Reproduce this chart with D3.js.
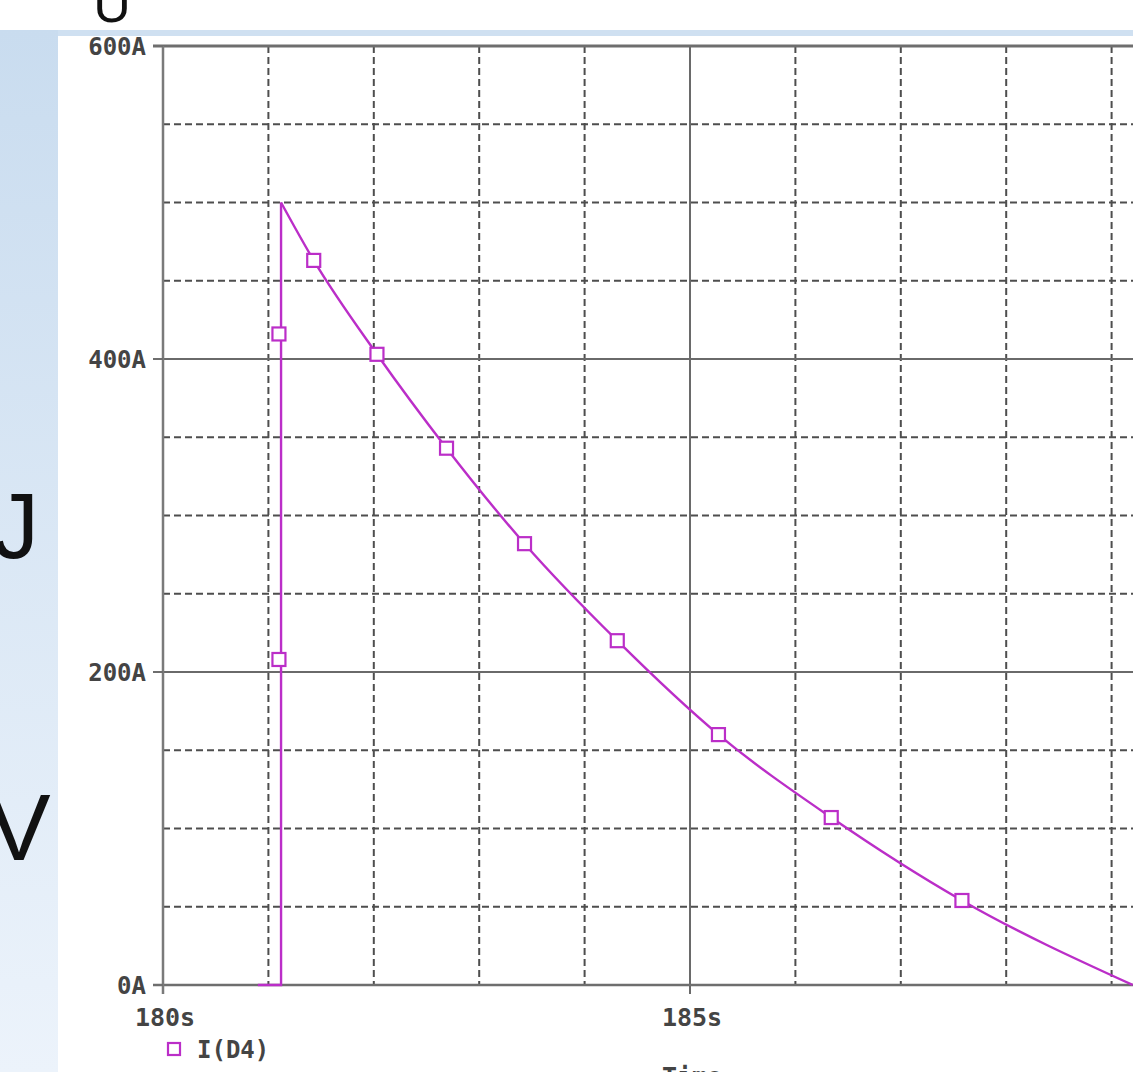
<!DOCTYPE html>
<html>
<head>
<meta charset="utf-8">
<script src="https://cdn.jsdelivr.net/npm/d3@7"></script>
<style>
  html, body { margin: 0; padding: 0; background: #fff; }
  svg { display: block; }
</style>
</head>
<body>
<div id="chart"></div>
<script>
// trace I(D4)
const traceTime = [180.9, 181.12, 181.12, 181.43, 182.03, 182.69, 183.43, 184.31, 185.27, 186.34, 187.58, 189.2];
const traceAmps = [0, 0, 500, 463, 403, 343, 282, 220, 160, 107, 54, 0];
// marker squares
const markerTime = [181.1, 181.1, 181.43, 182.03, 182.69, 183.43, 184.31, 185.27, 186.34, 187.58];
const markerAmps = [208, 416, 463, 403, 343, 282, 220, 160, 107, 54];
// axis ticks
const yTicks = [0, 200, 400, 600];
const yGrid = [50, 100, 150, 250, 300, 350, 450, 500, 550];
const xTicks = [180, 185];
const xGrid = [181, 182, 183, 184, 186, 187, 188, 189];

const W = 1133, H = 1072;
const color = '#bb2ec8';
const gridColor = '#4e4e4e';

const svg = d3.select('#chart').append('svg')
  .attr('width', W).attr('height', H);

// slide background
const defs = svg.append('defs');
const grad = defs.append('linearGradient')
  .attr('id', 'sideGrad').attr('x1', 0).attr('y1', 0).attr('x2', 0).attr('y2', 1);
grad.append('stop').attr('offset', '0%').attr('stop-color', '#c9dcef');
grad.append('stop').attr('offset', '100%').attr('stop-color', '#ecf3fb');

svg.append('rect').attr('x', 0).attr('y', 30).attr('width', W).attr('height', 6).attr('fill', '#cfe0f1');
svg.append('rect').attr('x', 0).attr('y', 30).attr('width', 58).attr('height', H - 30).attr('fill', 'url(#sideGrad)');

// slide letters peeking in
svg.append('text').attr('x', 112).attr('y', 22).attr('text-anchor', 'middle')
  .attr('font-family', 'Liberation Sans, Arial, sans-serif').attr('font-size', 52).attr('fill', '#111').text('U');
svg.append('text').attr('x', 39).attr('y', 558).attr('text-anchor', 'end')
  .attr('font-family', 'Liberation Sans, Arial, sans-serif').attr('font-size', 92).attr('fill', '#111').text('J');
svg.append('text').attr('x', 19).attr('y', 860).attr('text-anchor', 'middle')
  .attr('font-family', 'Liberation Sans, Arial, sans-serif').attr('font-size', 95).attr('fill', '#111').text('V');

// scales
const x = d3.scaleLinear().domain([180, 190]).range([163, 163 + 1054]);
const y = d3.scaleLinear().domain([0, 600]).range([985, 46]);

const plot = svg.append('g');
plot.append('clipPath').attr('id', 'plotClip')
  .append('rect').attr('x', 58).attr('y', 36).attr('width', W - 58).attr('height', H - 36);

const g = plot.append('g').attr('clip-path', 'url(#plotClip)');

// dashed grid
g.selectAll('.hgrid').data(yGrid).enter().append('line')
  .attr('x1', x(180)).attr('x2', W)
  .attr('y1', d => y(d)).attr('y2', d => y(d))
  .attr('stroke', gridColor).attr('stroke-width', 2).attr('stroke-dasharray', '7,4');
g.selectAll('.vgrid').data(xGrid).enter().append('line')
  .attr('x1', d => x(d)).attr('x2', d => x(d))
  .attr('y1', y(600)).attr('y2', y(0))
  .attr('stroke', gridColor).attr('stroke-width', 2).attr('stroke-dasharray', '7,4');

// solid major lines
g.selectAll('.hmajor').data([200, 400]).enter().append('line')
  .attr('x1', x(180)).attr('x2', W)
  .attr('y1', d => y(d)).attr('y2', d => y(d))
  .attr('stroke', '#6a6a6a').attr('stroke-width', 2);
g.append('line')
  .attr('x1', x(185)).attr('x2', x(185)).attr('y1', y(600)).attr('y2', y(0) + 9)
  .attr('stroke', '#6a6a6a').attr('stroke-width', 2);

// frame: top border and axes
g.append('line').attr('x1', x(180) - 10).attr('x2', W).attr('y1', y(600)).attr('y2', y(600))
  .attr('stroke', '#6e6e6e').attr('stroke-width', 3);
g.append('line').attr('x1', x(180) - 10).attr('x2', W).attr('y1', y(0)).attr('y2', y(0))
  .attr('stroke', '#6e6e6e').attr('stroke-width', 2.5);
g.append('line').attr('x1', x(180)).attr('x2', x(180)).attr('y1', y(600)).attr('y2', y(0) + 9)
  .attr('stroke', '#7a7a7a').attr('stroke-width', 2.5);
g.selectAll('.ytick').data(yTicks).enter().append('line')
  .attr('x1', x(180) - 10).attr('x2', x(180))
  .attr('y1', d => y(d)).attr('y2', d => y(d))
  .attr('stroke', '#6e6e6e').attr('stroke-width', 2);

// tick labels
const labelFont = 'DejaVu Sans Mono, monospace';
g.selectAll('.ylab').data(yTicks).enter().append('text')
  .attr('x', x(180) - 17).attr('y', d => y(d) + 9)
  .attr('text-anchor', 'end')
  .attr('font-family', labelFont).attr('font-weight', 'bold').attr('font-size', 24)
  .attr('fill', '#444').text(d => d + 'A');
g.selectAll('.xlab').data(xTicks).enter().append('text')
  .attr('x', d => x(d) + 2).attr('y', 1026)
  .attr('text-anchor', 'middle')
  .attr('font-family', labelFont).attr('font-weight', 'bold').attr('font-size', 25)
  .attr('fill', '#444').text(d => d + 's');
g.append('text').attr('x', x(185) + 2).attr('y', 1085).attr('text-anchor', 'middle')
  .attr('font-family', labelFont).attr('font-weight', 'bold').attr('font-size', 25)
  .attr('fill', '#444').text('Time');

// trace
const pts = traceTime.map((t, i) => [t, traceAmps[i]]);
const rise = d3.line().x(d => x(d[0])).y(d => y(d[1]));
const decay = d3.line().x(d => x(d[0])).y(d => y(d[1])).curve(d3.curveMonotoneX);
g.append('path').attr('d', rise(pts.slice(0, 3)))
  .attr('fill', 'none').attr('stroke', color).attr('stroke-width', 2.4);
g.append('path').attr('d', decay(pts.slice(2)))
  .attr('fill', 'none').attr('stroke', color).attr('stroke-width', 2.4);

// markers
const ms = 13;
g.selectAll('.marker').data(markerTime.map((t, i) => [t, markerAmps[i]])).enter().append('rect')
  .attr('x', d => x(d[0]) - ms / 2).attr('y', d => y(d[1]) - ms / 2)
  .attr('width', ms).attr('height', ms)
  .attr('fill', '#fff').attr('stroke', color).attr('stroke-width', 2.2);

// legend
g.append('rect').attr('x', 168).attr('y', 1043).attr('width', 12).attr('height', 12)
  .attr('fill', 'none').attr('stroke', color).attr('stroke-width', 2.2);
g.append('text').attr('x', 197).attr('y', 1058)
  .attr('font-family', labelFont).attr('font-weight', 'bold').attr('font-size', 24)
  .attr('fill', '#444').text('I(D4)');
</script>
</body>
</html>
